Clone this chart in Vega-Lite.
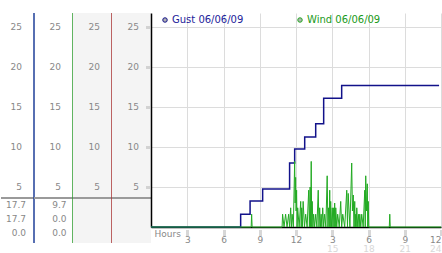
{
  "$schema": "https://vega.github.io/schema/vega-lite/v6.json",
  "padding": {"left": 0, "top": 12, "right": 0, "bottom": 0},
  "background": "white",
  "config": {"view": {"stroke": null}, "font": "DejaVu Sans"},
  "datasets": {
    "ticks": [{"v": 5}, {"v": 10}, {"v": 15}, {"v": 20}, {"v": 25}],
    "table": [
      {"col": "c1", "row": 1, "val": "17.7"},
      {"col": "c1", "row": 2, "val": "17.7"},
      {"col": "c1", "row": 3, "val": "0.0"},
      {"col": "c2", "row": 1, "val": "9.7"},
      {"col": "c2", "row": 2, "val": "0.0"},
      {"col": "c2", "row": 3, "val": "0.0"}
    ],
    "gust": [
      {"h": 0, "v": 0, "s": "Gust 06/06/09"},
      {"h": 7.42, "v": 1.6, "s": "Gust 06/06/09"},
      {"h": 8.2, "v": 3.25, "s": "Gust 06/06/09"},
      {"h": 9.24, "v": 4.75, "s": "Gust 06/06/09"},
      {"h": 11.47, "v": 8.0, "s": "Gust 06/06/09"},
      {"h": 11.89, "v": 9.75, "s": "Gust 06/06/09"},
      {"h": 12.72, "v": 11.25, "s": "Gust 06/06/09"},
      {"h": 13.63, "v": 12.9, "s": "Gust 06/06/09"},
      {"h": 14.29, "v": 16.1, "s": "Gust 06/06/09"},
      {"h": 15.78, "v": 17.7, "s": "Gust 06/06/09"},
      {"h": 23.84, "v": 17.7, "s": "Gust 06/06/09"}
    ],
    "wind": [
      {"h": 0, "v": 0}, {"h": 8.29, "v": 0}, {"h": 8.33, "v": 1.6}, {"h": 8.37, "v": 0},
      {"h": 10.85, "v": 0}, {"h": 10.89, "v": 1.6}, {"h": 11.01, "v": 0}, {"h": 11.14, "v": 1.6},
      {"h": 11.26, "v": 0}, {"h": 11.39, "v": 1.6}, {"h": 11.47, "v": 0}, {"h": 11.56, "v": 2.4},
      {"h": 11.62, "v": 0}, {"h": 11.68, "v": 1.6}, {"h": 11.78, "v": 0}, {"h": 11.89, "v": 8.2},
      {"h": 11.93, "v": 3.0}, {"h": 11.97, "v": 6.2}, {"h": 12.01, "v": 2.0}, {"h": 12.05, "v": 4.6},
      {"h": 12.09, "v": 0}, {"h": 12.14, "v": 2.4}, {"h": 12.26, "v": 0}, {"h": 12.39, "v": 3.2},
      {"h": 12.43, "v": 0}, {"h": 12.47, "v": 2.4}, {"h": 12.53, "v": 0}, {"h": 12.59, "v": 3.2},
      {"h": 12.7, "v": 0}, {"h": 12.8, "v": 1.6}, {"h": 12.92, "v": 0}, {"h": 13.05, "v": 4.6},
      {"h": 13.11, "v": 0}, {"h": 13.17, "v": 5.0}, {"h": 13.21, "v": 0}, {"h": 13.26, "v": 8.2},
      {"h": 13.3, "v": 0}, {"h": 13.34, "v": 3.2}, {"h": 13.4, "v": 0}, {"h": 13.46, "v": 1.6},
      {"h": 13.54, "v": 0}, {"h": 13.63, "v": 1.6}, {"h": 13.73, "v": 0}, {"h": 13.84, "v": 4.6},
      {"h": 13.9, "v": 0}, {"h": 13.96, "v": 2.4}, {"h": 14.02, "v": 0}, {"h": 14.08, "v": 1.6},
      {"h": 14.14, "v": 0}, {"h": 14.21, "v": 2.4}, {"h": 14.29, "v": 0}, {"h": 14.37, "v": 1.6},
      {"h": 14.47, "v": 0}, {"h": 14.58, "v": 6.4}, {"h": 14.64, "v": 0}, {"h": 14.7, "v": 2.4},
      {"h": 14.75, "v": 0}, {"h": 14.79, "v": 4.6}, {"h": 14.83, "v": 0}, {"h": 14.87, "v": 3.2},
      {"h": 14.93, "v": 0}, {"h": 15.0, "v": 2.4}, {"h": 15.06, "v": 0}, {"h": 15.12, "v": 2.4},
      {"h": 15.16, "v": 0}, {"h": 15.2, "v": 3.0}, {"h": 15.25, "v": 0}, {"h": 15.29, "v": 2.4},
      {"h": 15.37, "v": 0}, {"h": 15.45, "v": 1.6}, {"h": 15.58, "v": 0}, {"h": 15.7, "v": 3.2},
      {"h": 15.78, "v": 0}, {"h": 15.87, "v": 1.6}, {"h": 16.03, "v": 0}, {"h": 16.2, "v": 4.6},
      {"h": 16.26, "v": 0}, {"h": 16.32, "v": 4.2}, {"h": 16.46, "v": 0}, {"h": 16.61, "v": 8.0},
      {"h": 16.67, "v": 2.0}, {"h": 16.74, "v": 4.0}, {"h": 16.8, "v": 0}, {"h": 16.86, "v": 3.2},
      {"h": 16.9, "v": 0}, {"h": 16.94, "v": 1.6}, {"h": 16.98, "v": 0}, {"h": 17.03, "v": 2.4},
      {"h": 17.11, "v": 0}, {"h": 17.19, "v": 1.6}, {"h": 17.23, "v": 0}, {"h": 17.28, "v": 1.6},
      {"h": 17.36, "v": 0}, {"h": 17.44, "v": 1.6}, {"h": 17.56, "v": 0}, {"h": 17.69, "v": 4.6},
      {"h": 17.73, "v": 0}, {"h": 17.77, "v": 6.4}, {"h": 17.83, "v": 2.0}, {"h": 17.9, "v": 5.4},
      {"h": 17.94, "v": 0}, {"h": 17.98, "v": 3.2}, {"h": 18.02, "v": 0}, {"h": 19.72, "v": 0},
      {"h": 19.76, "v": 1.6}, {"h": 19.8, "v": 0}, {"h": 24, "v": 0}
    ]
  },
  "hconcat": [
    {
      "width": 33, "height": 230,
      "layer": [
        {"data": {"name": "ticks"},
         "mark": {"type": "text", "align": "right", "baseline": "middle", "dx": -12, "fontSize": 9, "font": "DejaVu Sans", "color": "#888888"},
         "encoding": {"x": {"value": "width"}, "y": {"field": "v", "type": "quantitative", "scale": {"domain": [-2, 26.75], "nice": false, "zero": false}, "axis": null}, "text": {"field": "v", "type": "quantitative"}}},
        {"data": {"name": "table"}, "transform": [{"filter": "datum.col == 'c1'"}],
         "mark": {"type": "text", "align": "right", "baseline": "middle", "dx": -8, "fontSize": 9, "font": "DejaVu Sans", "color": "#888888"},
         "encoding": {"x": {"value": "width"}, "y": {"field": "row", "type": "quantitative", "scale": {"domain": [-12.71, 3.714], "reverse": true, "nice": false, "zero": false}, "axis": null}, "text": {"field": "val", "type": "nominal"}}},
        {"data": {"values": [{}]},
         "mark": {"type": "rule", "color": "#9a9a9a", "strokeWidth": 2},
         "encoding": {"y": {"datum": 0.5, "type": "quantitative", "scale": {"domain": [-12.71, 3.714], "reverse": true, "nice": false, "zero": false}, "axis": null}}},
        {"data": {"values": [{}]},
         "mark": {"type": "rule", "color": "#1f3f99", "strokeWidth": 1.5},
         "encoding": {"x": {"value": "width"}}}
      ],
      "resolve": {"scale": {"y": "independent"}}
    },
    {
      "width": 39, "height": 230,
      "layer": [
        {"data": {"name": "ticks"},
         "mark": {"type": "text", "align": "right", "baseline": "middle", "dx": -12, "fontSize": 9, "font": "DejaVu Sans", "color": "#888888"},
         "encoding": {"x": {"value": "width"}, "y": {"field": "v", "type": "quantitative", "scale": {"domain": [-2, 26.75], "nice": false, "zero": false}, "axis": null}, "text": {"field": "v", "type": "quantitative"}}},
        {"data": {"name": "table"}, "transform": [{"filter": "datum.col == 'c2'"}],
         "mark": {"type": "text", "align": "right", "baseline": "middle", "dx": -6.5, "fontSize": 9, "font": "DejaVu Sans", "color": "#888888"},
         "encoding": {"x": {"value": "width"}, "y": {"field": "row", "type": "quantitative", "scale": {"domain": [-12.71, 3.714], "reverse": true, "nice": false, "zero": false}, "axis": null}, "text": {"field": "val", "type": "nominal"}}},
        {"data": {"values": [{}]},
         "mark": {"type": "rule", "color": "#9a9a9a", "strokeWidth": 2},
         "encoding": {"y": {"datum": 0.5, "type": "quantitative", "scale": {"domain": [-12.71, 3.714], "reverse": true, "nice": false, "zero": false}, "axis": null}}},
        {"data": {"values": [{}]},
         "mark": {"type": "rule", "color": "#2d9b2d", "strokeWidth": 1.5},
         "encoding": {"x": {"value": "width"}}}
      ],
      "resolve": {"scale": {"y": "independent"}}
    },
    {
      "width": 39, "height": 230,
      "view": {"fill": "#f4f4f4"},
      "layer": [
        {"data": {"name": "ticks"},
         "mark": {"type": "text", "align": "right", "baseline": "middle", "dx": -12, "fontSize": 9, "font": "DejaVu Sans", "color": "#888888"},
         "encoding": {"x": {"value": "width"}, "y": {"field": "v", "type": "quantitative", "scale": {"domain": [-2, 26.75], "nice": false, "zero": false}, "axis": null}, "text": {"field": "v", "type": "quantitative"}}},
        {"data": {"values": [{}]},
         "mark": {"type": "rule", "color": "#9a9a9a", "strokeWidth": 2},
         "encoding": {"y": {"datum": 0.5, "type": "quantitative", "scale": {"domain": [-12.71, 3.714], "reverse": true, "nice": false, "zero": false}, "axis": null}}},
        {"data": {"values": [{}]},
         "mark": {"type": "rule", "color": "#a83232", "strokeWidth": 1.5},
         "encoding": {"x": {"value": "width"}}}
      ],
      "resolve": {"scale": {"y": "independent"}}
    },
    {
      "width": 39, "height": 230,
      "view": {"fill": "#f4f4f4"},
      "layer": [
        {"data": {"name": "ticks"},
         "mark": {"type": "text", "align": "right", "baseline": "middle", "dx": -12, "fontSize": 9, "font": "DejaVu Sans", "color": "#888888"},
         "encoding": {"x": {"value": "width"}, "y": {"field": "v", "type": "quantitative", "scale": {"domain": [-2, 26.75], "nice": false, "zero": false}, "axis": null}, "text": {"field": "v", "type": "quantitative"}}},
        {"data": {"values": [{}]},
         "mark": {"type": "rule", "color": "#9a9a9a", "strokeWidth": 2},
         "encoding": {"y": {"datum": 0.5, "type": "quantitative", "scale": {"domain": [-12.71, 3.714], "reverse": true, "nice": false, "zero": false}, "axis": null}}}
      ],
      "resolve": {"scale": {"y": "independent"}}
    },
    {
      "width": 290, "height": 214,
      "layer": [
        {
          "data": {"name": "gust"},
          "mark": {"type": "line", "interpolate": "step-after", "strokeWidth": 1.5},
          "encoding": {
            "x": {"field": "h", "type": "quantitative", "scale": {"domain": [0, 24], "nice": false, "zero": false},
              "axis": {"orient": "bottom", "values": [3, 6, 9, 12, 15, 18, 21, 24], "domainColor": "#000000", "domainWidth": 1.5,
                "grid": true, "gridColor": "#dcdcdc", "gridWidth": 1,
                "ticks": true, "tickSize": 8, "tickWidth": 3, "tickColor": "#b0b0b0", "tickDash": [0, 3, 1, 1, 1, 1, 1, 1],
                "labelExpr": "datum.value > 12 ? datum.value - 12 : datum.value", "labelPadding": 0, "labelFontSize": 9, "labelFont": "DejaVu Sans", "labelColor": "#888888",
                "title": "Hours", "titleX": 3, "titleY": 6, "titleAlign": "left", "titleBaseline": "middle", "titleFontSize": 9, "titleFont": "DejaVu Sans", "titleFontWeight": "normal", "titleColor": "#888888"}},
            "y": {"field": "v", "type": "quantitative", "scale": {"domain": [0, 26.75], "nice": false},
              "axis": {"values": [5, 10, 15, 20, 25], "domainColor": "#000000", "domainWidth": 1.5, "grid": true, "gridColor": "#dcdcdc", "gridWidth": 1,
                "labels": false, "ticks": true, "tickSize": 6, "tickWidth": 3, "tickColor": "#b0b0b0", "tickDash": [0, 2, 1, 1, 1, 1], "title": null}},
            "color": {"field": "s", "type": "nominal",
              "scale": {"domain": ["Gust 06/06/09", "Wind 06/06/09"], "range": ["#12128a", "#22aa22"]},
              "legend": {"orient": "none", "legendX": 159, "legendY": 2, "direction": "horizontal", "title": null, "padding": 0,
                "symbolType": "circle", "symbolSize": 20, "labelOffset": 2, "columnPadding": 51, "labelFontSize": 10, "labelFont": "DejaVu Sans", "labelLimit": 200,
                "symbolFillColor": "#b4b4b4", "symbolStrokeColor": "#8c8c8c", "symbolStrokeWidth": 1, "symbolOpacity": 1,
                "encode": {
                  "symbols": {"update": {"fill": {"value": "#b4b4b4"}, "stroke": {"value": "#8c8c8c"}, "strokeWidth": {"value": 1}, "opacity": {"value": 1}}},
                  "labels": {"update": {"fill": {"signal": "datum.value === 'Gust 06/06/09' ? '#22229a' : '#1a9a1a'"}}}
                }}}
          }
        },
        {
          "data": {"name": "wind"},
          "mark": {"type": "line", "strokeWidth": 1},
          "encoding": {
            "x": {"field": "h", "type": "quantitative",
              "axis": {"orient": "bottom", "values": [15, 18, 21, 24], "domain": false, "ticks": false, "tickSize": 0, "grid": false,
                "labelPadding": 17, "labelFontSize": 9, "labelFont": "DejaVu Sans", "labelColor": "#d8d8d8", "title": null}},
            "y": {"field": "v", "type": "quantitative"},
            "color": {"datum": "Wind 06/06/09", "type": "nominal"}
          }
        }
      ],
      "resolve": {"axis": {"x": "independent"}}
    }
  ],
  "spacing": 0,
  "bounds": "flush"
}
